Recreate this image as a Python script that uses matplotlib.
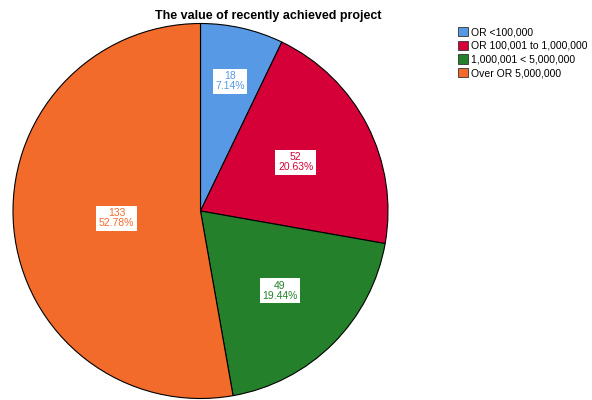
import matplotlib
matplotlib.use("Agg")
import matplotlib.pyplot as plt
import numpy as np

plt.rcParams['font.family'] = ['Liberation Sans', 'DejaVu Sans']

categories = ["OR <100,000", "OR 100,001 to 1,000,000", "1,000,001 < 5,000,000", "Over OR 5,000,000"]
counts = [18, 52, 49, 133]
percents = [7.14, 20.63, 19.44, 52.78]
colors = ["#5799E5", "#D50037", "#24802A", "#F36B2B"]
label_r = [0.71, 0.57, 0.60, 0.45]

fig = plt.figure(figsize=(5.92, 4.0), dpi=100)
ax = fig.add_axes([13/592, 1.5/400, 375/592, 375/400])
wedges, _ = ax.pie(counts, colors=colors, startangle=90, counterclock=False,
                   wedgeprops=dict(edgecolor="black", linewidth=0.8))
ax.set_xlim(-1, 1); ax.set_ylim(-1, 1)
ax.set_aspect('equal')
ax.axis('off')

for w, c, p, col, r in zip(wedges, counts, percents, colors, label_r):
    ang = np.deg2rad((w.theta1 + w.theta2) / 2)
    ax.text(r*np.cos(ang), r*np.sin(ang), f"{c}\n{p:.2f}%", color=col,
            ha='center', va='center', fontsize=7.5, linespacing=1.0,
            bbox=dict(boxstyle='square,pad=0.25', fc='white', ec='none'))

fig.text(268/592, 1-16/400, "The value of recently achieved project", ha='center', va='center',
         fontsize=9, fontweight='bold')

handles = [plt.Rectangle((0, 0), 1, 1, fc=c, ec='#333333', lw=0.6) for c in colors]
fig.legend(handles, categories, loc='upper left', bbox_to_anchor=(458/592, 1-27/400),
           frameon=False, fontsize=7.5, handlelength=1.0, handleheight=1.0,
           handletextpad=0.25, labelspacing=0.33, borderaxespad=0, borderpad=0)

fig.savefig("out.png", dpi=100)
